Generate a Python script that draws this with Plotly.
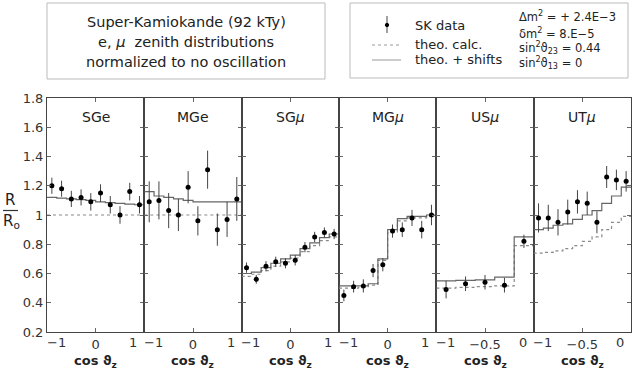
import plotly.graph_objects as go
from plotly.subplots import make_subplots

# ---------------- data ----------------
panel_titles = ["SGe", "MGe", "SG<i>μ</i>", "MG<i>μ</i>", "US<i>μ</i>", "UT<i>μ</i>"]

full_edges = [-1.0, -0.8, -0.6, -0.4, -0.2, 0.0, 0.2, 0.4, 0.6, 0.8, 1.0]
full_centers = [-0.9, -0.7, -0.5, -0.3, -0.1, 0.1, 0.3, 0.5, 0.7, 0.9]
us_edges = [-1.0, -0.8, -0.6, -0.4, -0.2, 0.0]
us_centers = [-0.9, -0.7, -0.5, -0.3, -0.1]
ut_edges = [-1.0, -0.9, -0.8, -0.7, -0.6, -0.5, -0.4, -0.3, -0.2, -0.1, 0.0]
ut_centers = [-0.95, -0.85, -0.75, -0.65, -0.55, -0.45, -0.35, -0.25, -0.15, -0.05]

sge_data = [1.20, 1.18, 1.11, 1.12, 1.09, 1.15, 1.07, 1.00, 1.16, 1.07]
sge_err = [0.055, 0.055, 0.055, 0.055, 0.06, 0.06, 0.06, 0.06, 0.06, 0.06]
sge_shift = [1.12, 1.115, 1.11, 1.105, 1.10, 1.09, 1.085, 1.08, 1.075, 1.07]
sge_calc = [1.0, 1.0, 1.0, 1.0, 1.0, 1.0, 1.0, 1.0, 1.0, 1.0]

mge_data = [1.09, 1.10, 1.03, 1.00, 1.19, 0.96, 1.31, 0.90, 0.97, 1.11]
mge_err = [0.14, 0.13, 0.12, 0.11, 0.11, 0.10, 0.13, 0.11, 0.12, 0.15]
mge_shift = [1.16, 1.13, 1.12, 1.11, 1.10, 1.09, 1.09, 1.09, 1.09, 1.09]
mge_calc = [1.0, 1.0, 1.0, 1.0, 1.0, 1.0, 1.0, 1.0, 1.0, 1.0]

sgm_data = [0.64, 0.56, 0.65, 0.68, 0.67, 0.69, 0.78, 0.85, 0.88, 0.87]
sgm_err = [0.035, 0.03, 0.035, 0.035, 0.035, 0.035, 0.035, 0.035, 0.035, 0.035]
sgm_shift = [0.60, 0.61, 0.64, 0.67, 0.70, 0.725, 0.77, 0.81, 0.845, 0.87]
sgm_calc = [0.58, 0.595, 0.62, 0.65, 0.68, 0.705, 0.75, 0.79, 0.825, 0.85]

mgm_data = [0.45, 0.51, 0.515, 0.62, 0.66, 0.89, 0.90, 0.98, 0.90, 1.00]
mgm_err = [0.04, 0.04, 0.045, 0.045, 0.045, 0.045, 0.05, 0.055, 0.06, 0.07]
mgm_shift = [0.515, 0.515, 0.515, 0.53, 0.70, 0.90, 0.975, 0.99, 0.99, 1.00]
mgm_calc = [0.50, 0.50, 0.505, 0.52, 0.69, 0.88, 0.96, 0.98, 0.98, 0.99]

usm_data = [0.49, 0.53, 0.54, 0.52, 0.82]
usm_err = [0.06, 0.05, 0.05, 0.05, 0.045]
usm_shift = [0.55, 0.553, 0.556, 0.575, 0.85]
usm_calc = [0.50, 0.505, 0.51, 0.515, 0.79]

utm_data = [0.98, 0.98, 0.95, 1.02, 1.09, 1.08, 0.95, 1.26, 1.24, 1.23]
utm_err = [0.10, 0.09, 0.09, 0.085, 0.08, 0.08, 0.075, 0.075, 0.07, 0.07]
utm_shift = [0.90, 0.91, 0.93, 0.94, 0.97, 1.00, 1.03, 1.08, 1.13, 1.19]
utm_calc = [0.74, 0.745, 0.755, 0.77, 0.79, 0.82, 0.85, 0.90, 0.95, 0.99]

y_tickvals = [0.2, 0.4, 0.6, 0.8, 1.0, 1.2, 1.4, 1.6, 1.8]
y_ticktext = ["0.2", "0.4", "0.6", "0.8", "1", "1.2", "1.4", "1.6", "1.8"]

panels = [
    (full_edges, full_centers, sge_data, sge_err, sge_shift, sge_calc, [-1, 1], [0], ["0"], ["−1", "1"]),
    (full_edges, full_centers, mge_data, mge_err, mge_shift, mge_calc, [-1, 1], [0], ["0"], ["−1", "1"]),
    (full_edges, full_centers, sgm_data, sgm_err, sgm_shift, sgm_calc, [-1, 1], [0], ["0"], ["−1", "1"]),
    (full_edges, full_centers, mgm_data, mgm_err, mgm_shift, mgm_calc, [-1, 1], [0], ["0"], ["−1", "1"]),
    (us_edges, us_centers, usm_data, usm_err, usm_shift, usm_calc, [-1, 0], [-0.5], ["−0.5"], ["−1", "0"]),
    (ut_edges, ut_centers, utm_data, utm_err, utm_shift, utm_calc, [-1, 0], [-0.5], ["−0.5"], ["−1", "0"]),
]

# ---------------- layout helpers ----------------
W, H = 632, 370
L, R, T, B = 47, 631, 98, 332
FONT = "DejaVu Sans"
TXT = "#222"


def px(x):
    return (x - L) / (R - L)


def py(y):
    return (B - y) / (B - T)


fig = make_subplots(rows=1, cols=6, shared_yaxes=True, horizontal_spacing=0)

annotations = []
shapes = []

for i, (edges, centers, data, err, shift, calc, xr, tv, tt, edge_lbl) in enumerate(panels):
    col = i + 1
    fig.add_trace(go.Scatter(x=edges, y=calc + [calc[-1]], mode="lines", line_shape="hv",
                             line=dict(color="#8a8a8a", width=1.2, dash="3px,3px"),
                             hoverinfo="skip"), row=1, col=col)
    fig.add_trace(go.Scatter(x=edges, y=shift + [shift[-1]], mode="lines", line_shape="hv",
                             line=dict(color="#666", width=1.2),
                             hoverinfo="skip"), row=1, col=col)
    fig.add_trace(go.Scatter(x=centers, y=data, mode="markers",
                             marker=dict(color="black", size=5),
                             error_y=dict(type="data", array=err, color="#444", thickness=1, width=0)),
                  row=1, col=col)
    axn = "" if col == 1 else str(col)
    fig.update_xaxes(range=xr, tickvals=tv, ticktext=tt, ticks="inside", ticklen=4,
                     tickcolor="#666", showline=True, linecolor="#444", linewidth=1,
                     mirror="ticks", showgrid=False, zeroline=False,
                     tickfont=dict(size=13, color="#333", family=FONT), row=1, col=col)
    fig.update_yaxes(range=[0.2, 1.8], tickvals=y_tickvals, ticktext=y_ticktext,
                     ticks="inside", ticklen=4, tickcolor="#666", showline=True,
                     linecolor="#444", linewidth=1, mirror="ticks", showgrid=False,
                     zeroline=False, tickfont=dict(size=13, color="#333", family=FONT),
                     row=1, col=col)
    annotations.append(dict(x=xr[0], xref="x" + axn, y=py(342), yref="paper", text=edge_lbl[0],
                            showarrow=False, xanchor="center", yanchor="middle", xshift=9,
                            font=dict(size=13, color="#333", family=FONT)))
    annotations.append(dict(x=xr[1], xref="x" + axn, y=py(342), yref="paper", text=edge_lbl[1],
                            showarrow=False, xanchor="center", yanchor="middle", xshift=-11,
                            font=dict(size=13, color="#333", family=FONT)))
    annotations.append(dict(x=0.5, xref="x" + axn + " domain", y=py(117), yref="paper",
                            text=panel_titles[i], showarrow=False, xanchor="center",
                            yanchor="middle", font=dict(size=14, color=TXT, family=FONT)))
    annotations.append(dict(x=0.5, xref="x" + axn + " domain", y=py(361), yref="paper",
                            text="<b>cos ϑ<sub>z</sub></b>", showarrow=False, xanchor="center",
                            yanchor="middle", font=dict(size=13, color=TXT, family=FONT)))

# R / R0 label
annotations.append(dict(x=px(10), y=py(200), xref="paper", yref="paper", text="R",
                        showarrow=False, xanchor="center", yanchor="middle",
                        font=dict(size=15, color=TXT, family=FONT)))
annotations.append(dict(x=px(11), y=py(221), xref="paper", yref="paper", text="R<sub>o</sub>",
                        showarrow=False, xanchor="center", yanchor="middle",
                        font=dict(size=15, color=TXT, family=FONT)))
shapes.append(dict(type="line", xref="paper", yref="paper", x0=px(3), x1=px(18),
                   y0=py(210.5), y1=py(210.5), line=dict(color="#333", width=1.2)))

# header box 1
shapes.append(dict(type="rect", xref="paper", yref="paper", x0=px(47), x1=px(325),
                   y0=py(79), y1=py(3), line=dict(color="#bbb", width=1)))
for txt, yy in [("Super-Kamiokande (92 kTy)", 22),
                ("e, <i>μ</i>  zenith distributions", 42),
                ("normalized to no oscillation", 62)]:
    annotations.append(dict(x=px(186), y=py(yy), xref="paper", yref="paper", text=txt,
                            showarrow=False, xanchor="center", yanchor="middle",
                            font=dict(size=14.5, color=TXT, family=FONT)))

# header box 2 (legend)
shapes.append(dict(type="rect", xref="paper", yref="paper", x0=px(350), x1=px(628),
                   y0=py(78), y1=py(3), line=dict(color="#bbb", width=1)))
shapes.append(dict(type="line", xref="paper", yref="paper", x0=px(387), x1=px(387),
                   y0=py(33), y1=py(16), line=dict(color="#444", width=1)))
shapes.append(dict(type="circle", xref="paper", yref="paper", x0=px(385.3), x1=px(388.7),
                   y0=py(26.7), y1=py(23.3), fillcolor="black", line=dict(color="black", width=1)))
shapes.append(dict(type="line", xref="paper", yref="paper", x0=px(372), x1=px(401),
                   y0=py(45), y1=py(45), line=dict(color="#999", width=1.2, dash="3px,3px")))
shapes.append(dict(type="line", xref="paper", yref="paper", x0=px(372), x1=px(401),
                   y0=py(60), y1=py(60), line=dict(color="#aaa", width=1.2)))
for txt, yy in [("SK data", 25), ("theo. calc.", 45), ("theo. + shifts", 60)]:
    annotations.append(dict(x=px(413), y=py(yy), xref="paper", yref="paper", text=txt,
                            showarrow=False, xanchor="left", yanchor="middle",
                            font=dict(size=13, color=TXT, family=FONT)))
for txt, yy in [("Δm<sup>2</sup> = + 2.4E−3", 17),
                ("δm<sup>2</sup> = 8.E−5", 33),
                ("sin<sup>2</sup>ϑ<sub>23</sub> = 0.44", 48),
                ("sin<sup>2</sup>ϑ<sub>13</sub> = 0", 63)]:
    annotations.append(dict(x=px(517), y=py(yy), xref="paper", yref="paper", text=txt,
                            showarrow=False, xanchor="left", yanchor="middle",
                            font=dict(size=11.5, color=TXT, family=FONT)))

fig.update_layout(width=W, height=H, margin=dict(l=L, r=W - R, t=T, b=H - B),
                  paper_bgcolor="white", plot_bgcolor="white", showlegend=False,
                  font=dict(family=FONT, color=TXT),
                  annotations=annotations, shapes=shapes)

fig.write_html("out.html", config={"displayModeBar": False},
               post_script="document.body.style.margin='0';")
